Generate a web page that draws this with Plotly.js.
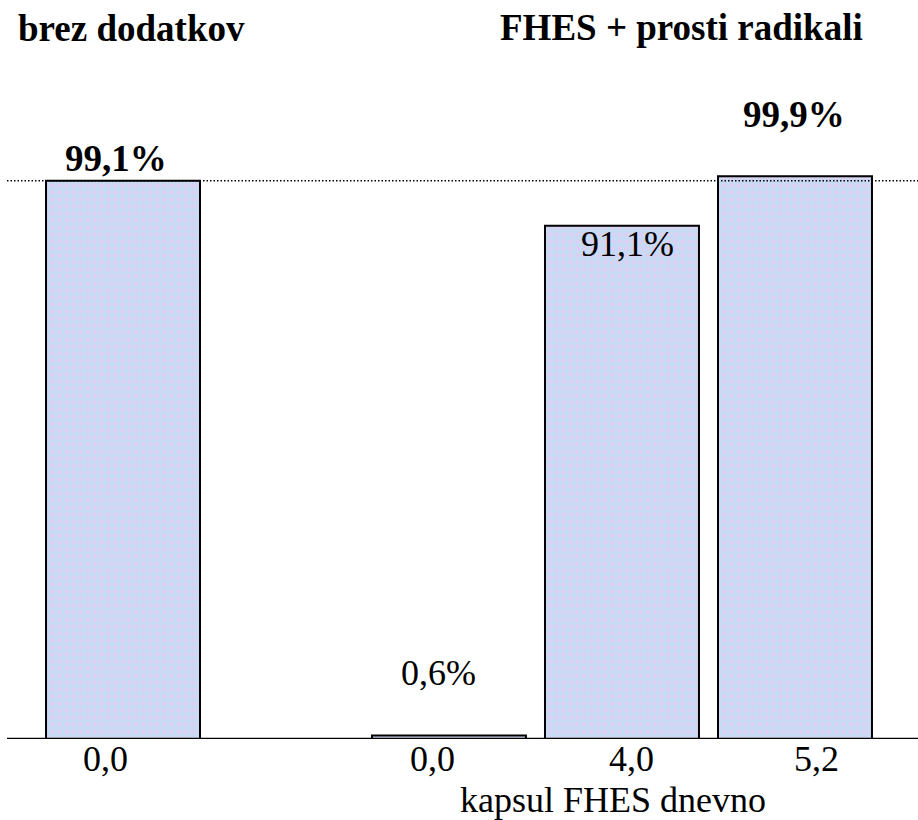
<!DOCTYPE html>
<html>
<head>
<meta charset="utf-8">
<script src="https://cdn.plot.ly/plotly-3.0.1.min.js"></script>
<style>html,body{margin:0;padding:0;background:#fff;}#chart{width:918px;height:820px;}</style>
</head>
<body>
<div id="chart"></div>
<script>
// ---- data ----
const groupTitles = ["brez dodatkov", "FHES + prosti radikali"];
const tickLabels = ["0,0", "0,0", "4,0", "5,2"];
const values = [99.1, 0.6, 91.1, 99.9];
const valueLabels = ["99,1%", "0,6%", "91,1%", "99,9%"];
const boldLabel = [true, false, false, true];
const xAxisTitle = "kapsul FHES dnevno";

// ---- layout helpers (positions, not data) ----
const xpos = [0, 1.884, 2.884, 3.884];
const labelShiftY = [22, 63, -18, 62];
const labelShiftX = [-7, -10, 6, -1];
const tickShiftX = [-18, -16, 10, 22];
const FONT = "Liberation Serif";
const PLOT_H = 739;

const trace = {
  type: "bar",
  x: xpos,
  y: values,
  width: 0.89,
  marker: {
    color: "#c9daf5",
    line: {color: "#000", width: 2},
    pattern: {shape: ".", fgcolor: "#dccff2", bgcolor: "#c8dbf5", size: 7, solidity: 0.35}
  },
  hoverinfo: "skip"
};

const annotations = values.map((v, i) => ({
  x: xpos[i], y: v, xref: "x", yref: "y",
  text: boldLabel[i] ? "<b>" + valueLabels[i] + "</b>" : valueLabels[i],
  showarrow: false, yanchor: "middle", yshift: labelShiftY[i], xshift: labelShiftX[i],
  font: {family: FONT, size: boldLabel[i] ? 37 : 36, color: "#000"}
}));
tickLabels.forEach((t, i) => annotations.push({
  x: xpos[i], y: -20 / PLOT_H, xref: "x", yref: "paper", text: t,
  showarrow: false, xanchor: "center", yanchor: "middle", xshift: tickShiftX[i],
  font: {family: FONT, size: 36, color: "#000"}
}));
annotations.push({
  x: 613 / 918, y: -61 / PLOT_H, xref: "paper", yref: "paper", text: xAxisTitle,
  showarrow: false, xanchor: "center", yanchor: "middle",
  font: {family: FONT, size: 36, color: "#000"}
});
annotations.push({
  x: 131 / 918, y: 1 - 29 / PLOT_H, xref: "paper", yref: "paper", text: "<b>" + groupTitles[0] + "</b>",
  showarrow: false, xanchor: "center", yanchor: "middle",
  font: {family: FONT, size: 37, color: "#000"}
});
annotations.push({
  x: 681 / 918, y: 1 - 28 / PLOT_H, xref: "paper", yref: "paper", text: "<b>" + groupTitles[1] + "</b>",
  showarrow: false, xanchor: "center", yanchor: "middle",
  font: {family: FONT, size: 37, color: "#000"}
});

const layout = {
  width: 918, height: 820,
  font: {family: FONT, size: 36, color: "#000"},
  margin: {l: 0, r: 0, t: 0, b: 820 - PLOT_H, pad: 0},
  paper_bgcolor: "#fff", plot_bgcolor: "#fff",
  showlegend: false,
  xaxis: {
    range: [-0.711, 4.595], showticklabels: false,
    showgrid: false, zeroline: false, showline: false, ticks: "", fixedrange: true
  },
  yaxis: {range: [0, 131.2], visible: false, showgrid: false, zeroline: false, fixedrange: true},
  shapes: [
    {type: "line", xref: "paper", yref: "y", x0: 7 / 918, x1: 1, y0: values[0], y1: values[0],
     line: {color: "#000", width: 1.5, dash: "1.5px,2px"}, layer: "above"},
    {type: "line", xref: "paper", yref: "y", x0: 7 / 918, x1: 1, y0: 0, y1: 0,
     line: {color: "#000", width: 2.5}, layer: "above"}
  ],
  annotations: annotations
};

Plotly.newPlot("chart", [trace], layout, {displayModeBar: false});
</script>
</body>
</html>
